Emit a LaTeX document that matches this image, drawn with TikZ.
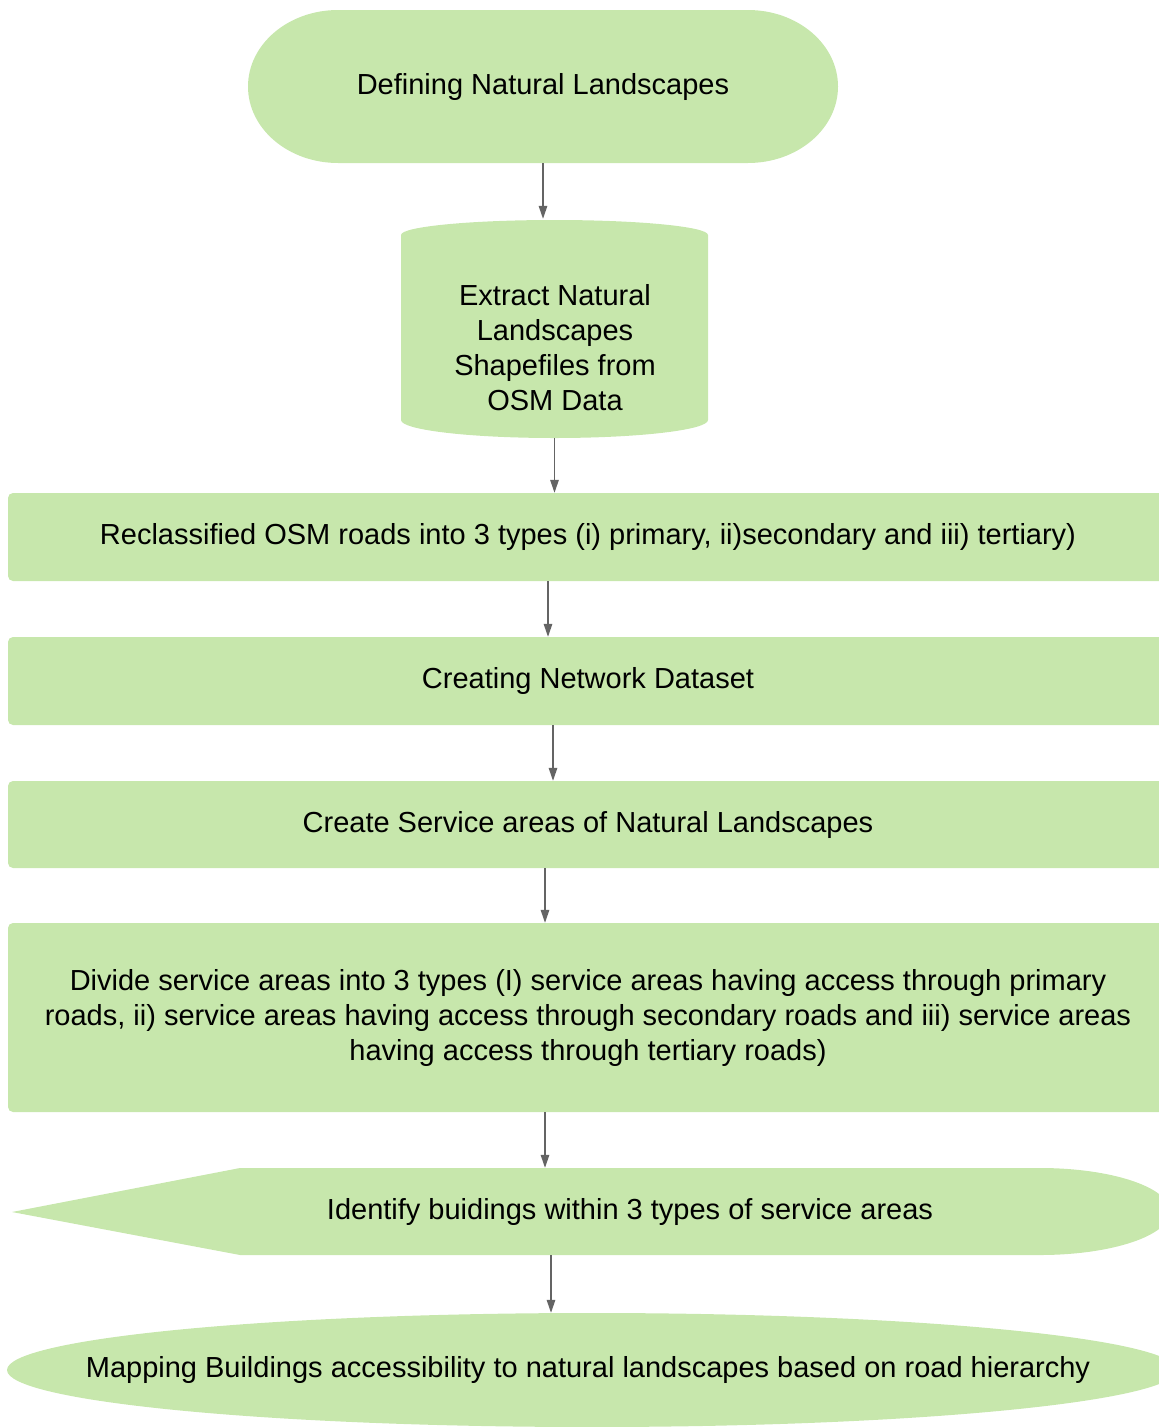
\documentclass[tikz,border=0pt]{standalone}
\usepackage{fontspec}
\setmainfont{Liberation Sans}
\usetikzlibrary{arrows.meta}
\definecolor{boxgreen}{RGB}{199,231,172}
\definecolor{arrowgray}{RGB}{100,100,100}
\tikzset{
  txt/.style={font=\fontsize{29pt}{35pt}\selectfont, text=black, align=center, inner sep=0pt},
  greenbox/.style={txt, fill=boxgreen, rounded corners=5pt, minimum width=1160pt},
  arr/.style={draw=arrowgray, line width=1.5pt, -{Triangle[length=13pt,width=8.5pt]}}
}
\begin{document}
\begin{tikzpicture}[x=1pt,y=-1pt]
\useasboundingbox (0,0) rectangle (1159,1427);
\clip (0,0) rectangle (1159,1427);
% 1 terminal
\fill[boxgreen] (338,10) -- (748,10) arc[start angle=270,end angle=450,x radius=90,y radius=76.5]
  -- (338,163) arc[start angle=90,end angle=270,x radius=90,y radius=76.5] -- cycle;
\node[txt, minimum width=590pt, minimum height=153pt] (n1) at (543,86.5) {Defining Natural Landscapes};
% 2 cylinder
\fill[boxgreen] (401,235) arc[start angle=180,end angle=360,x radius=153.5,y radius=15]
  -- (708,420) arc[start angle=0,end angle=180,x radius=153.5,y radius=18] -- cycle;
\node[inner sep=0pt, minimum width=307pt, minimum height=219pt] (n2) at (554.5,328.5) {};
\node[txt] (n2t) at (555,347.5) {Extract Natural\\Landscapes\\Shapefiles from\\OSM Data};
% 3-6 boxes
\node[greenbox, minimum height=88pt] (n3) at (588,537) {Reclassified OSM roads into 3 types (i) primary, ii)secondary and iii) tertiary)};
\node[greenbox, minimum height=88pt] (n4) at (588,681) {Creating Network Dataset};
\node[greenbox, minimum height=87pt] (n5) at (588,824.5) {Create Service areas of Natural Landscapes};
\node[greenbox, minimum height=189pt] (n6) at (588,1017.5) {Divide service areas into 3 types (I) service areas having access through primary\\roads, ii) service areas having access through secondary roads and iii) service areas\\having access through tertiary roads)};
% 7 display shape
\fill[boxgreen] (12,1212) -- (240,1168) -- (1040,1168)
  arc[start angle=270,end angle=450,x radius=130,y radius=43.5] -- (240,1255) -- cycle;
\node[txt, minimum height=87pt] (n7) at (630,1211.5) {Identify buidings within 3 types of service areas};
% 8 ellipse
\fill[boxgreen] (592,1370) ellipse[x radius=585, y radius=57];
\node[txt, minimum width=1170pt, minimum height=114pt] (n8) at (588,1370) {Mapping Buildings accessibility to natural landscapes based on road hierarchy};
% connector x positions
\coordinate (x1) at (543,0);
\coordinate (x2) at (554.5,0);
\coordinate (x3) at (548,0);
\coordinate (x4) at (553,0);
\coordinate (x5) at (545,0);
\coordinate (x6) at (545,0);
\coordinate (x7) at (551,0);
% connectors
\draw[arr] (n1.south -| x1) -- (n2.north -| x1);
\draw[arr] (n2.south -| x2) -- (n3.north -| x2);
\draw[arr] (n3.south -| x3) -- (n4.north -| x3);
\draw[arr] (n4.south -| x4) -- (n5.north -| x4);
\draw[arr] (n5.south -| x5) -- (n6.north -| x5);
\draw[arr] (n6.south -| x6) -- (n7.north -| x6);
\draw[arr] (n7.south -| x7) -- (n8.north -| x7);
\end{tikzpicture}
\end{document}
